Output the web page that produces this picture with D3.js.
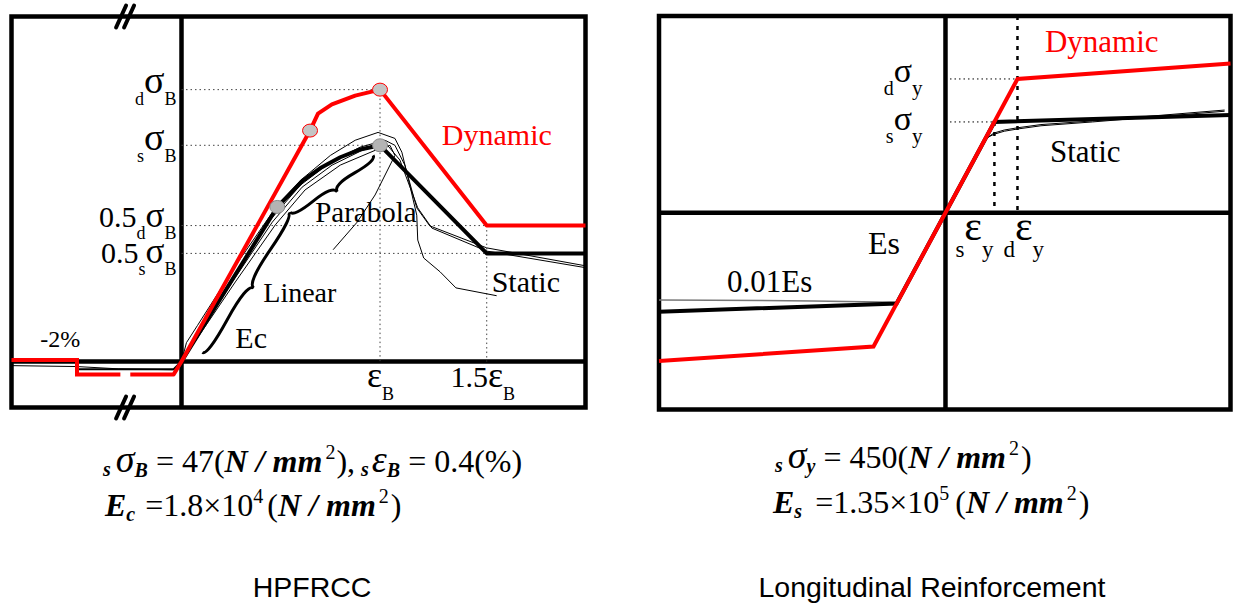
<!DOCTYPE html>
<html>
<head>
<meta charset="utf-8">
<script src="https://cdn.jsdelivr.net/npm/d3@7"></script>
<style>
  html, body { margin: 0; padding: 0; background: #fff; }
  svg { display: block; }
  text { font-family: "Liberation Serif", "Times New Roman", serif; }
  .title { font-family: "Liberation Sans", Arial, sans-serif; }
</style>
</head>
<body>
<svg id="chart" width="1235" height="609"></svg>
<script>
// ---------------- HPFRCC: strain (%) vs stress (N/mm2) ----------------
// compression side (strain < 0) is drawn on a condensed, broken axis
const hpDynamicCompression = [[-2.6, 0.3], [-2.0, 0.3], [-2.0, -2.8], [-1.17, -2.8]];
const hpDynamicModel = [[-0.98, -2.8], [-0.15, -2.8], [0, 0], [0.259, 50.2], [0.275, 53.9],
  [0.303, 55.9], [0.35, 57.8], [0.4, 59.1], [0.615, 29.55], [0.814, 29.55]];
const hpStaticCompression = [[-2.0, -1.7], [-0.15, -1.7], [0, 0]];
const hpStaticModel = [[0, 0], [0.193, 33.6], [0.245, 39.4], [0.279, 42.0], [0.32, 44.4],
  [0.36, 46.1], [0.4, 47.0], [0.615, 23.5], [0.814, 23.5]];
const hpTest1 = [[-2.6, -0.9], [-2.0, -1.1], [-1.2, -1.6], [-0.15, -1.8], [0, 0], [0.01, 4.1],
  [0.032, 7.8], [0.11, 21.0], [0.19, 33.5], [0.24, 39.4], [0.30, 44.8], [0.35, 48.1],
  [0.396, 49.8], [0.43, 48.5], [0.444, 45.5], [0.46, 38.3], [0.474, 31.8], [0.476, 26.4],
  [0.488, 22.5], [0.521, 19.5], [0.553, 16.0], [0.635, 14.3]];
const hpTest2 = [[0, 0], [0.0985, 17.3], [0.179, 30.8], [0.239, 38.3], [0.30, 43.3], [0.36, 46.6],
  [0.41, 48.1], [0.43, 47.0], [0.45, 42.7], [0.474, 33.4], [0.50, 29.5], [0.615, 24.7], [0.814, 20.8]];
const hpTest3 = [[0, 0], [0.1025, 17.3], [0.183, 30.3], [0.243, 37.9], [0.3035, 42.7], [0.364, 45.9],
  [0.412, 47.4], [0.44, 43.8], [0.476, 33.4], [0.5045, 29.0], [0.615, 24.0], [0.814, 20.4]];
const hpTest4 = [[0, 0], [0.1085, 17.3], [0.189, 29.7], [0.249, 37.3], [0.32, 42.7], [0.39, 45.9],
  [0.42, 47.0], [0.43, 44.8], [0.39, 36.2], [0.354, 30.3], [0.3055, 24.3]];
const hpDynamicPoints = [[0.259, 50.2], [0.4, 59.1]];
const hpStaticPoints = [[0.193, 33.6], [0.4, 47.0]];
const hpStressLevels = [59.1, 47.0, 29.55, 23.5];
const hpStressPrefix = ["", "", "0.5", "0.5"];
const hpStressRate = ["d", "s", "d", "s"];
const hpStrainLevels = [0.4, 0.615];
const hpStrainPrefix = ["", "1.5"];
const hpBreakStrain = -1.08;
const hpBraceLinear = [[0.042, 1.95], [0.215, 32.3]];
const hpBraceParabola = [[0.219, 32.5], [0.386, 44.8]];

// ---------------- Longitudinal reinforcement: strain (%) vs stress (N/mm2) ----------------
const rbDynamicModel = [[-1.95, -735], [-0.49, -663], [0, 0], [0.49, 663], [1.94, 740]];
const rbStaticModel = [[-1.95, -490], [-0.333, -450], [0, 0], [0.333, 450], [1.94, 485]];
const rbTestCompression = [[-1.95, -432], [-0.9, -437], [-0.34, -444]];
const rbTest1 = [[0, 0], [0.26, 355], [0.30, 380], [0.33, 395], [0.40, 410], [0.49, 421],
  [0.65, 437], [1.0, 455], [1.9, 509]];
const rbTest2 = [[0, 0], [0.25, 350], [0.29, 374], [0.33, 389], [0.40, 404], [0.49, 415],
  [0.65, 431], [1.0, 450], [1.9, 503]];
const rbStressLevels = [663, 450];
const rbStressRate = ["d", "s"];
const rbStrainLevels = [0.333, 0.49];
const rbStrainRate = ["s", "d"];

const RED = "#ff0000";
const svg = d3.select("#chart");

// helper: text built from tspans (sizes, sub/superscript shifts, styles)
function rich(g, x, y, anchor, parts, fill) {
  const t = g.append("text").attr("x", x).attr("y", y)
    .attr("text-anchor", anchor).attr("fill", fill || "#000");
  let prev = 0;
  parts.forEach(p => {
    const sp = t.append("tspan").text(p.t).attr("font-size", p.size);
    const sh = p.shift || 0;
    if (sh !== prev) sp.attr("dy", sh - prev);
    if (p.dx) sp.attr("dx", p.dx);
    if (p.it) sp.attr("font-style", "italic");
    if (p.bold) sp.attr("font-weight", "bold");
    prev = sh;
  });
  return t;
}

// helper: curly brace between two pixel points, cusp on the right-hand side
function brace(x1, y1, x2, y2, w, q) {
  let dx = x1 - x2, dy = y1 - y2;
  const len = Math.hypot(dx, dy); dx /= len; dy /= len;
  const qx1 = x1 + q * w * dy, qy1 = y1 - q * w * dx;
  const qx2 = (x1 - .25 * len * dx) + (1 - q) * w * dy, qy2 = (y1 - .25 * len * dy) - (1 - q) * w * dx;
  const tx = (x1 - .5 * len * dx) + w * dy, ty = (y1 - .5 * len * dy) - w * dx;
  const qx3 = x2 + q * w * dy, qy3 = y2 - q * w * dx;
  const qx4 = (x1 - .75 * len * dx) + (1 - q) * w * dy, qy4 = (y1 - .75 * len * dy) - (1 - q) * w * dx;
  return `M${x1},${y1} Q${qx1},${qy1} ${qx2},${qy2} T${tx},${ty} M${x2},${y2} Q${qx3},${qy3} ${qx4},${qy4} T${tx},${ty}`;
}

// ================= Left panel: HPFRCC =================
const xL = d3.scaleLinear().domain([-2.6, -2, 0, 0.814]).range([11.5, 77, 181.5, 585.5]);
const yL = d3.scaleLinear().domain([-10, 75]).range([407.5, 16.5]);
const lineL = d3.line().x(d => xL(d[0])).y(d => yL(d[1]));
const gL = svg.append("g");

// frame and axes
gL.append("rect").attr("x", xL.range()[0]).attr("y", yL.range()[1])
  .attr("width", xL(0.814) - xL(-2.6)).attr("height", yL(-10) - yL(75))
  .attr("fill", "none").attr("stroke", "#000").attr("stroke-width", 4.5);
gL.append("line").attr("x1", xL(-2.6)).attr("x2", xL(0.814)).attr("y1", yL(0)).attr("y2", yL(0))
  .attr("stroke", "#000").attr("stroke-width", 4.5);
gL.append("line").attr("x1", xL(0)).attr("x2", xL(0)).attr("y1", yL(75)).attr("y2", yL(-10))
  .attr("stroke", "#000").attr("stroke-width", 4.5);

// axis break marks
[yL(75), yL(-10)].forEach(yy => {
  [-4, 4].forEach(off => {
    const bx = xL(hpBreakStrain) + off;
    gL.append("line").attr("x1", bx - 5).attr("y1", yy + 11).attr("x2", bx + 5).attr("y2", yy - 11)
      .attr("stroke", "#000").attr("stroke-width", 4).attr("stroke-linecap", "round");
  });
});

// dotted guides
const guidesL = [
  [[0, hpStressLevels[0]], [hpStrainLevels[0], hpStressLevels[0]]],
  [[0, hpStressLevels[1]], [hpStrainLevels[0], hpStressLevels[1]]],
  [[0, hpStressLevels[2]], [hpStrainLevels[1], hpStressLevels[2]]],
  [[0, hpStressLevels[3]], [hpStrainLevels[1], hpStressLevels[3]]],
  [[hpStrainLevels[0], hpStressLevels[0]], [hpStrainLevels[0], 0]],
  [[hpStrainLevels[1], hpStressLevels[2]], [hpStrainLevels[1], 0]]
];
guidesL.forEach(g => {
  gL.append("path").attr("d", lineL(g)).attr("fill", "none")
    .attr("stroke", "#444").attr("stroke-width", 1).attr("stroke-dasharray", "1.5,3");
});

// test curves
[hpTest1, hpTest2, hpTest3, hpTest4].forEach(c => {
  gL.append("path").attr("d", lineL(c)).attr("fill", "none")
    .attr("stroke", "#000").attr("stroke-width", 1);
});

// model curves
gL.append("path").attr("d", lineL(hpStaticCompression)).attr("fill", "none")
  .attr("stroke", "#000").attr("stroke-width", 2);
gL.append("path").attr("d", lineL(hpStaticModel)).attr("fill", "none")
  .attr("stroke", "#000").attr("stroke-width", 4).attr("stroke-linejoin", "round");
gL.append("path").attr("d", lineL(hpDynamicCompression)).attr("fill", "none")
  .attr("stroke", RED).attr("stroke-width", 4);
gL.append("path").attr("d", lineL(hpDynamicModel)).attr("fill", "none")
  .attr("stroke", RED).attr("stroke-width", 4).attr("stroke-linejoin", "round");

// characteristic points
gL.selectAll(".pd").data(hpDynamicPoints).enter().append("ellipse")
  .attr("cx", d => xL(d[0])).attr("cy", d => yL(d[1])).attr("rx", 7.5).attr("ry", 6.5)
  .attr("fill", "#c4c4c4").attr("stroke", RED).attr("stroke-width", 1);
gL.selectAll(".ps").data(hpStaticPoints).enter().append("ellipse")
  .attr("cx", d => xL(d[0])).attr("cy", d => yL(d[1])).attr("rx", 7.5).attr("ry", 6.5)
  .attr("fill", "#b4b4b4").attr("stroke", "#888").attr("stroke-width", 1);

// braces
[hpBraceLinear, hpBraceParabola].forEach(b => {
  gL.append("path").attr("d", brace(xL(b[0][0]), yL(b[0][1]), xL(b[1][0]), yL(b[1][1]), 10, 0.6))
    .attr("fill", "none").attr("stroke", "#000").attr("stroke-width", 3);
});

// stress level labels
const hpStressDy = [3, 5, 1, 10];
const hpSigmaSize = [38, 38, 35, 35];
hpStressLevels.forEach((v, i) => {
  const parts = [];
  if (hpStressPrefix[i]) parts.push({ t: hpStressPrefix[i], size: 30 });
  parts.push({ t: hpStressRate[i], size: 18, shift: 12 });
  parts.push({ t: "σ", size: hpSigmaSize[i] });
  parts.push({ t: "B", size: 18, shift: 12 });
  rich(gL, xL(0) - 5, yL(v) + hpStressDy[i], "end", parts);
});
// strain level labels
const hpStrainDx = [0.5, -4];
hpStrainLevels.forEach((v, i) => {
  const parts = [];
  if (hpStrainPrefix[i]) parts.push({ t: hpStrainPrefix[i], size: 30 });
  parts.push({ t: "ε", size: 36 });
  parts.push({ t: "B", size: 18, shift: 13 });
  rich(gL, xL(v) + hpStrainDx[i], yL(0) + 25, "middle", parts);
});

// annotations
rich(gL, xL(0.5246), yL(47.0), "start", [{ t: "Dynamic", size: 30 }], RED);
rich(gL, xL(0.625), yL(15.2), "start", [{ t: "Static", size: 30 }]);
rich(gL, xL(0.2693), yL(30.4), "start", [{ t: "Parabola", size: 29 }]);
rich(gL, xL(0.1648), yL(13.0), "start", [{ t: "Linear", size: 28 }]);
rich(gL, xL(0.1085), yL(3.04), "start", [{ t: "Ec", size: 30 }]);
rich(gL, xL(-2.336), yL(3.25), "start", [{ t: "-2%", size: 24 }]);

// ================= Right panel: Longitudinal reinforcement =================
const xR = d3.scaleLinear().domain([-1.95, 1.94]).range([659, 1230.5]);
const yR = d3.scaleLinear().domain([-975, 975]).range([409.5, 16]);
const lineR = d3.line().x(d => xR(d[0])).y(d => yR(d[1]));
const gR = svg.append("g");

gR.append("rect").attr("x", xR(-1.95)).attr("y", yR(975))
  .attr("width", xR(1.94) - xR(-1.95)).attr("height", yR(-975) - yR(975))
  .attr("fill", "none").attr("stroke", "#000").attr("stroke-width", 4.5);
gR.append("line").attr("x1", xR(-1.95)).attr("x2", xR(1.94)).attr("y1", yR(0)).attr("y2", yR(0))
  .attr("stroke", "#000").attr("stroke-width", 4.5);
gR.append("line").attr("x1", xR(0)).attr("x2", xR(0)).attr("y1", yR(975)).attr("y2", yR(-975))
  .attr("stroke", "#000").attr("stroke-width", 4.5);

// dotted guides
rbStressLevels.forEach((v, i) => {
  const e = rbStrainLevels[1 - i];
  gR.append("path").attr("d", lineR([[0, v], [e, v]])).attr("fill", "none")
    .attr("stroke", "#000").attr("stroke-width", 1).attr("stroke-dasharray", "1.5,3");
});
gR.append("path").attr("d", lineR([[rbStrainLevels[1], 975], [rbStrainLevels[1], 0]]))
  .attr("fill", "none").attr("stroke", "#000").attr("stroke-width", 2.5).attr("stroke-dasharray", "4,6");
gR.append("path").attr("d", lineR([[rbStrainLevels[0], rbStressLevels[1]], [rbStrainLevels[0], 0]]))
  .attr("fill", "none").attr("stroke", "#000").attr("stroke-width", 2.5).attr("stroke-dasharray", "4,6");

// test curves
gR.append("path").attr("d", lineR(rbTestCompression)).attr("fill", "none")
  .attr("stroke", "#777").attr("stroke-width", 1.5);
[rbTest1, rbTest2].forEach(c => {
  gR.append("path").attr("d", lineR(c)).attr("fill", "none")
    .attr("stroke", "#000").attr("stroke-width", 1);
});
// model curves
gR.append("path").attr("d", lineR(rbStaticModel)).attr("fill", "none")
  .attr("stroke", "#000").attr("stroke-width", 4);
gR.append("path").attr("d", lineR(rbDynamicModel)).attr("fill", "none")
  .attr("stroke", RED).attr("stroke-width", 4);

// stress level labels
const rbStressDy = [3, 8];
rbStressLevels.forEach((v, i) => {
  rich(gR, xR(0) - 23, yR(v) + rbStressDy[i], "end", [
    { t: rbStressRate[i], size: 20, shift: 13 },
    { t: "σ", size: 34 },
    { t: "y", size: 21, shift: 13 }
  ]);
});
// strain level labels
const rbStrainDx = [-39, -14];
rbStrainLevels.forEach((v, i) => {
  rich(gR, xR(v) + rbStrainDx[i], yR(0) + 27, "start", [
    { t: rbStrainRate[i], size: 23, shift: 17 },
    { t: "ε", size: 42 },
    { t: "y", size: 23, shift: 17 }
  ]);
});

// annotations
rich(gR, xR(0.677), yR(796.6), "start", [{ t: "Dynamic", size: 31 }], RED);
rich(gR, xR(0.711), yR(251.5), "start", [{ t: "Static", size: 31 }]);
rich(gR, xR(-0.528), yR(-204.4), "start", [{ t: "Es", size: 32 }]);
rich(gR, xR(-1.487), yR(-392.7), "start", [{ t: "0.01Es", size: 31 }]);

// ================= material constants =================
const F = 32, S = 20, G = 38;
rich(svg, 103, 472, "start", [
  { t: "s", size: S, shift: 4, it: 1, bold: 1 },
  { t: "σ", size: G, it: 1, dx: 5 },
  { t: "B", size: S, shift: 5, it: 1, bold: 1 },
  { t: " = 47(", size: F },
  { t: "N", size: F, it: 1, bold: 1 },
  { t: " / ", size: F, it: 1, bold: 1 },
  { t: "mm", size: F, it: 1, bold: 1 },
  { t: "2", size: S, shift: -13, dx: 3 },
  { t: "),", size: F, dx: 1 },
  { t: "s", size: S, shift: 4, it: 1, bold: 1, dx: 6 },
  { t: "ε", size: G, it: 1, dx: 3 },
  { t: "B", size: S, shift: 5, it: 1, bold: 1 },
  { t: " = 0.4(%)", size: F }
]);
rich(svg, 105, 516, "start", [
  { t: "E", size: F, it: 1, bold: 1 },
  { t: "c", size: S, shift: 5, it: 1, bold: 1 },
  { t: " =1.8×10", size: F, dx: 2 },
  { t: "4", size: S, shift: -13 },
  { t: "(", size: F, dx: 4 },
  { t: "N", size: F, it: 1, bold: 1 },
  { t: " / ", size: F, it: 1, bold: 1 },
  { t: "mm", size: F, it: 1, bold: 1 },
  { t: "2", size: S, shift: -13, dx: 3 },
  { t: ")", size: F, dx: 2 }
]);
rich(svg, 775, 468, "start", [
  { t: "s", size: S, shift: 4, it: 1, bold: 1 },
  { t: "σ", size: G, it: 1, dx: 5 },
  { t: "y", size: S, shift: 5, it: 1, bold: 1 },
  { t: " = 450(", size: F },
  { t: "N", size: F, it: 1, bold: 1 },
  { t: " / ", size: F, it: 1, bold: 1 },
  { t: "mm", size: F, it: 1, bold: 1 },
  { t: "2", size: S, shift: -13, dx: 3 },
  { t: ")", size: F, dx: 2 }
]);
rich(svg, 773, 513, "start", [
  { t: "E", size: F, it: 1, bold: 1 },
  { t: "s", size: S, shift: 5, it: 1, bold: 1 },
  { t: " =1.35×10", size: F, dx: 5 },
  { t: "5", size: S, shift: -13 },
  { t: "(", size: F, dx: 6 },
  { t: "N", size: F, it: 1, bold: 1 },
  { t: " / ", size: F, it: 1, bold: 1 },
  { t: "mm", size: F, it: 1, bold: 1 },
  { t: "2", size: S, shift: -13, dx: 3 },
  { t: ")", size: F, dx: 2 }
]);

// panel titles
svg.append("text").attr("class", "title").attr("x", 312).attr("y", 597)
  .attr("text-anchor", "middle").attr("font-size", 28.5).text("HPFRCC");
svg.append("text").attr("class", "title").attr("x", 932).attr("y", 597)
  .attr("text-anchor", "middle").attr("font-size", 28.5).text("Longitudinal Reinforcement");
</script>
</body>
</html>
